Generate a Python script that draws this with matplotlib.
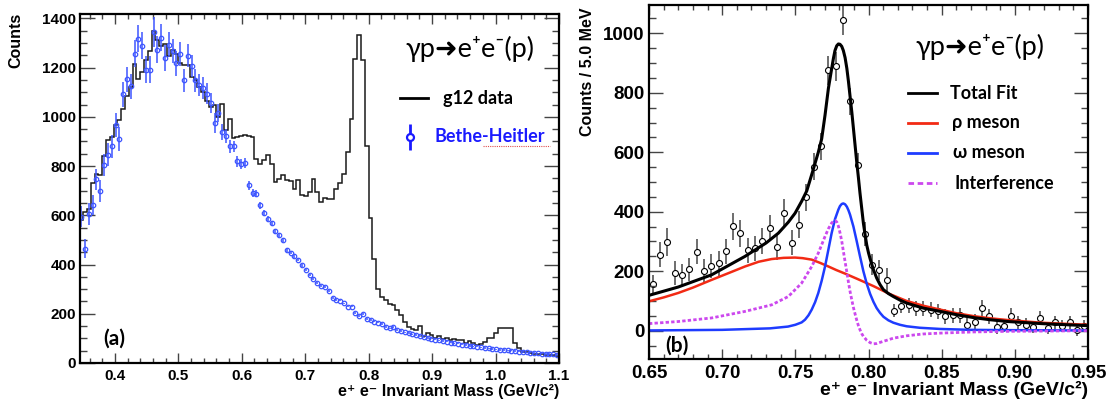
import numpy as np
import matplotlib.pyplot as plt
from matplotlib.ticker import MultipleLocator

W, H = 1119, 403

# ---- panel (a): g12 e+e- mass spectrum, 6 MeV bins starting at 0.344 GeV
a_lo = 0.344
a_bw = 0.006
g12_counts = [583, 614, 627, 732, 769, 765, 840, 905, 918, 968,
              989, 1033, 1083, 1121, 1213, 1155, 1182, 1232, 1267, 1348,
              1313, 1290, 1297, 1249, 1273, 1256, 1218, 1209, 1209, 1162,
              1148, 1121, 1101, 1063, 1040, 1047, 999, 1054, 945, 993,
              914, 918, 922, 925, 922, 918, 830, 807, 824, 844,
              810, 736, 749, 763, 742, 740, 705, 742, 682, 677,
              695, 749, 695, 654, 672, 668, 668, 709, 732, 767,
              857, 993, 1236, 1331, 1232, 880, 590, 423, 300, 268,
              256, 240, 236, 216, 195, 165, 145, 140, 134, 150,
              110, 120, 112, 100, 108, 98, 100, 95, 98, 92,
              92, 82, 88, 80, 72, 78, 85, 100, 102, 120,
              141, 141, 141, 141, 80, 60, 46, 46, 40, 38,
              37, 36, 34, 33, 31, 30]
bh_counts = [594, 465, 604, 641, 746, 699, 803, 847, 880, 968,
             909, 1091, 1152, 1124, 1256, 1317, 1290, 1191, 1191, 1344,
             1272, 1321, 1239, 1294, 1267, 1218, 1256, 1148, 1249, 1205,
             1148, 1128, 1117, 1094, 1056, 976, 1016, 938, 922, 880,
             880, 819, 807, 813, 722, 691, 688, 641, 610, 587,
             567, 535, 519, 499, 461, 448, 434, 420, 398, 377,
             357, 343, 326, 312, 309, 292, 266, 256, 253, 242,
             229, 229, 204, 191, 199, 178, 174, 168, 164, 158,
             147, 141, 147, 134, 130, 124, 121, 116, 113, 110,
             104, 101, 99, 95, 92, 89, 87, 83, 80, 79,
             75, 73, 70, 68, 66, 63, 61, 59, 57, 55,
             53, 52, 51, 50, 48, 46, 45, 43, 42, 40,
             39, 38, 37, 36, 35, 33]
bh_err = [42, 38, 45, 40, 42, 45, 45, 45, 48, 48,
          48, 50, 52, 50, 55, 55, 55, 55, 55, 60,
          55, 55, 52, 52, 50, 50, 50, 48, 48, 45,
          45, 45, 45, 42, 40, 40, 36, 32, 28, 26,
          24, 22, 20, 19, 18, 17, 15, 14, 12, 11,
          10, 9, 9, 8, 8, 7, 7, 6, 6, 5,
          5, 5, 4, 4, 4, 4, 4, 4, 3, 3,
          3, 3, 3, 3, 3, 3, 3, 3, 3, 3,
          3, 3, 3, 3, 3, 3, 3, 3, 3, 3,
          3, 3, 3, 3, 3, 3, 3, 3, 3, 3,
          3, 3, 3, 3, 3, 3, 3, 3, 3, 3,
          3, 3, 3, 3, 3, 3, 3, 3, 3, 3,
          3, 3, 3, 3, 3, 3]

# ---- panel (b): 5 MeV bins from 0.65 GeV
b_lo = 0.65
b_bw = 0.005
b_counts = [157, 255, 298, 193, 186, 206, 265, 202, 217, 227,
            268, 351, 327, 271, 277, 302, 345, 280, 397, 296,
            357, 449, 552, 620, 875, 889, 1043, 771, 556, 325,
            222, 205, 171, 68, 84, 85, 76, 76, 71, 65,
            48, 52, 52, 20, 31, 76, 48, 12, 17, 50,
            28, 20, 12, 43, 9, 29, 17, 28, 3, 15]
b_err = [30, 42, 48, 40, 38, 40, 42, 38, 40, 42,
         42, 45, 45, 42, 42, 45, 45, 42, 45, 42,
         45, 45, 45, 45, 48, 48, 48, 45, 42, 40,
         35, 34, 40, 22, 26, 25, 25, 25, 25, 25,
         25, 25, 25, 22, 25, 28, 25, 22, 22, 25,
         22, 22, 20, 22, 20, 22, 20, 22, 20, 20]

# fit curves
total_m = [0.650, 0.670, 0.6928, 0.7156, 0.730, 0.7384, 0.7452, 0.7498, 0.7543, 0.7578,
           0.7612, 0.7657, 0.768, 0.7703, 0.7726, 0.7748, 0.7760, 0.7771, 0.7783, 0.7794,
           0.7805, 0.7817, 0.7828, 0.7840, 0.7852, 0.7863, 0.7874, 0.7886, 0.7897, 0.7908,
           0.7919, 0.7931, 0.7942, 0.7954, 0.7965, 0.7977, 0.7988, 0.8000, 0.8011, 0.8023,
           0.8034, 0.8056, 0.8079, 0.8102, 0.8136, 0.817, 0.8215, 0.8261, 0.832, 0.8375,
           0.849, 0.860, 0.872, 0.883, 0.895, 0.918, 0.95]
total_y = [119, 147, 188, 250, 295, 328, 365, 395, 435, 470,
           525, 600, 645, 725, 815, 880, 915, 942, 958, 964,
           963, 956, 942, 918, 882, 838, 788, 735, 680, 625,
           570, 515, 462, 410, 362, 322, 288, 262, 242, 222,
           205, 177, 155, 138, 125, 115, 103, 93, 84, 76,
           65, 54, 44, 37, 31, 24, 17]
rho_m = [0.650, 0.660, 0.670, 0.680, 0.6928, 0.705, 0.7156, 0.725, 0.7338, 0.742,
         0.7498, 0.755, 0.7612, 0.767, 0.7726, 0.778, 0.784, 0.792, 0.8034, 0.8147,
         0.8261, 0.8375, 0.849, 0.860, 0.872, 0.883, 0.895, 0.918, 0.95]
rho_y = [99, 112, 127, 145, 171, 195, 216, 232, 241, 245,
         246, 244, 239, 228, 216, 204, 192, 175, 150, 123,
         100, 84, 71, 59, 49, 42, 36, 27, 20]
omega_m = [0.650, 0.700, 0.7327, 0.745, 0.750, 0.7543, 0.7566, 0.7590, 0.7612, 0.7635,
           0.7657, 0.7680, 0.7703, 0.7726, 0.7748, 0.7771, 0.7794, 0.7805, 0.7817, 0.7828,
           0.7840, 0.7852, 0.7863, 0.7874, 0.7897, 0.7919, 0.7942, 0.7965, 0.7988, 0.8011,
           0.8034, 0.8056, 0.8079, 0.8102, 0.8136, 0.817, 0.8215, 0.8261, 0.835, 0.849,
           0.870, 0.895, 0.95]
omega_y = [1, 3, 8, 14, 20, 28, 37, 52, 71, 96,
           127, 168, 216, 273, 328, 375, 407, 419, 426, 428,
           425, 417, 405, 390, 350, 302, 250, 200, 158, 124,
           97, 76, 60, 47, 35, 27, 20, 15, 10, 6,
           3, 2, 1]
interf_m = [0.650, 0.670, 0.6928, 0.7156, 0.7338, 0.7452, 0.7543, 0.7612, 0.7657, 0.7703,
            0.7726, 0.7748, 0.7760, 0.7771, 0.7783, 0.7794, 0.7805, 0.7817, 0.7828, 0.784,
            0.7852, 0.7863, 0.7874, 0.7886, 0.7897, 0.7909, 0.7920, 0.7931, 0.7942, 0.7954,
            0.7965, 0.7988, 0.8011, 0.8034, 0.8056, 0.808, 0.8125, 0.817, 0.8261, 0.837,
            0.849, 0.872, 0.895, 0.95]
interf_y = [24, 31, 43, 65, 87, 115, 160, 216, 261, 317,
            343, 362, 368, 370, 366, 352, 330, 302, 268, 232,
            197, 163, 132, 103, 78, 55, 35, 17, 3, -10,
            -19, -32, -40, -44, -43, -39, -32, -25, -17, -11,
            -8, -4, -2, 0]

BH_BLUE = '#3d55ff'
TXT_BLUE = '#1a1aff'
RED = '#f22a14'
BLUE = '#1e3cff'
MAG = '#cc48ee'
TICK_FONT = ['Liberation Sans', 'DejaVu Sans']
ANN_FONT = ['Lato', 'DejaVu Sans']

fig = plt.figure(figsize=(W / 100, H / 100), dpi=100)
axA = fig.add_axes([80 / W, 1 - 363 / H, 479 / W, 349 / H])
axB = fig.add_axes([649 / W, 1 - 359 / H, 439 / W, 354 / H])


def root_style(ax, fs, ylen):
    for s in ax.spines.values():
        s.set_linewidth(1.6)
        s.set_color('black')
    ax.tick_params(axis='both', which='both', direction='in', top=True, right=True,
                   colors='#444', labelcolor='black', width=1.0)
    ax.tick_params(axis='y', which='major', length=ylen, pad=3)
    ax.tick_params(axis='y', which='minor', length=ylen / 2)
    ax.tick_params(axis='x', which='major', length=7, pad=4)
    ax.tick_params(axis='x', which='minor', length=3.8)
    for lab in ax.get_xticklabels() + ax.get_yticklabels():
        lab.set_fontfamily(TICK_FONT)
        lab.set_fontweight('bold')
        lab.set_fontsize(fs)


# ---------------- panel (a)
edges = a_lo + a_bw * np.arange(len(g12_counts) + 1)
centers = edges[:-1] + a_bw / 2
axA.stairs(g12_counts, edges, baseline=None, color='#1a1a1a', lw=1.1)
axA.errorbar(centers, bh_counts, yerr=bh_err, fmt='o', ms=3.2, mfc='none',
             mec=BH_BLUE, ecolor=BH_BLUE, mew=0.9, elinewidth=1.1, capsize=0)
axA.set_xlim(0.345, 1.1)
axA.set_ylim(0, 1418)
axA.xaxis.set_major_locator(MultipleLocator(0.1))
axA.xaxis.set_minor_locator(MultipleLocator(0.02))
axA.yaxis.set_major_locator(MultipleLocator(200))
axA.yaxis.set_minor_locator(MultipleLocator(50))
axA.set_xticks([0.4, 0.5, 0.6, 0.7, 0.8, 0.9, 1.0, 1.1])
axA.set_xticklabels(['0.4', '0.5', '0.6', '0.7', '0.8', '0.9', '1.0', '1.1'])
root_style(axA, 11, 10.5)

axA.text(-0.134, 1.003, 'Counts', rotation=90, ha='center', va='top',
         transform=axA.transAxes, fontsize=11.5, fontweight='bold', family=TICK_FONT)
axA.text(1.0, -0.083, 'e⁺ e⁻ Invariant Mass (GeV/c²)', ha='right', va='center',
         transform=axA.transAxes, fontsize=11.5, fontweight='bold', family=TICK_FONT)

axA.text(0.814, 0.90, 'γp➜e⁺e⁻(p)', ha='center', va='center', transform=axA.transAxes,
         fontsize=19.5, family=ANN_FONT)
axA.plot([0.668, 0.727], [0.759, 0.759], color='black', lw=2, transform=axA.transAxes)
axA.text(0.758, 0.759, 'g12 data', ha='left', va='center', transform=axA.transAxes,
         fontsize=13, fontweight='bold', family=ANN_FONT)
axA.errorbar([0.689], [0.648], yerr=[0.037], fmt='o', ms=5, mfc='white', mec=TXT_BLUE,
             ecolor=TXT_BLUE, mew=1.6, elinewidth=2, capsize=0, transform=axA.transAxes)
axA.text(0.741, 0.648, 'Bethe-Heitler', ha='left', va='center', transform=axA.transAxes,
         fontsize=13, fontweight='bold', color=TXT_BLUE, family=ANN_FONT)
axA.plot([0.841, 0.981], [0.622, 0.622], color='#e05050', lw=0.8, ls=(0, (1, 1)),
         transform=axA.transAxes)
axA.text(0.048, 0.069, '(a)', ha='left', va='center', transform=axA.transAxes,
         fontsize=15, fontweight='bold', family=ANN_FONT)

# ---------------- panel (b)
b_centers = b_lo + b_bw * (np.arange(len(b_counts)) + 0.5)
axB.plot(rho_m, rho_y, color=RED, lw=1.8)
axB.plot(omega_m, omega_y, color=BLUE, lw=1.8)
axB.plot(interf_m, interf_y, color=MAG, lw=2.0, ls=(0, (1.2, 0.8)))
axB.plot(total_m, total_y, color='black', lw=2.2)
axB.errorbar(b_centers, b_counts, yerr=b_err, fmt='o', ms=4.3, mfc='white', mec='black',
             ecolor='#555', mew=0.8, elinewidth=1.2, capsize=0, zorder=1)
axB.set_xlim(0.65, 0.95)
axB.set_ylim(-95, 1095)
axB.set_xticks([0.65, 0.70, 0.75, 0.80, 0.85, 0.90, 0.95])
axB.set_xticklabels(['0.65', '0.70', '0.75', '0.80', '0.85', '0.90', '0.95'])
axB.xaxis.set_minor_locator(MultipleLocator(0.01))
axB.yaxis.set_major_locator(MultipleLocator(200))
axB.yaxis.set_minor_locator(MultipleLocator(50))
root_style(axB, 13.5, 10)

axB.text(-0.139, 0.994, 'Counts / 5.0 MeV', rotation=90, ha='center', va='top',
         transform=axB.transAxes, fontsize=11.5, fontweight='bold', family=TICK_FONT)
axB.text(1.0, -0.0876, 'e⁺ e⁻ Invariant Mass (GeV/c²)', ha='right', va='center',
         transform=axB.transAxes, fontsize=14, fontweight='bold', family=TICK_FONT)

axB.text(0.754, 0.881, 'γp➜e⁺e⁻(p)', ha='center', va='center', transform=axB.transAxes,
         fontsize=19.5, family=ANN_FONT)
leg = [('Total Fit', 'black', '-', 0.751, 0.686),
       ('ρ meson', RED, '-', 0.667, 0.690),
       ('ω meson', BLUE, '-', 0.582, 0.692),
       ('Interference', MAG, (0, (2, 1.3)), 0.497, 0.697)]
for lab, col, ls, yy, xt in leg:
    axB.plot([0.590, 0.656], [yy, yy], color=col, lw=2, ls=ls, transform=axB.transAxes)
    axB.text(xt, yy, lab, ha='left', va='center', transform=axB.transAxes,
             fontsize=13, fontweight='bold', family=ANN_FONT)
axB.text(0.036, 0.037, '(b)', ha='left', va='center', transform=axB.transAxes,
         fontsize=15, fontweight='bold', family=ANN_FONT)

fig.savefig('out.png', dpi=100)
